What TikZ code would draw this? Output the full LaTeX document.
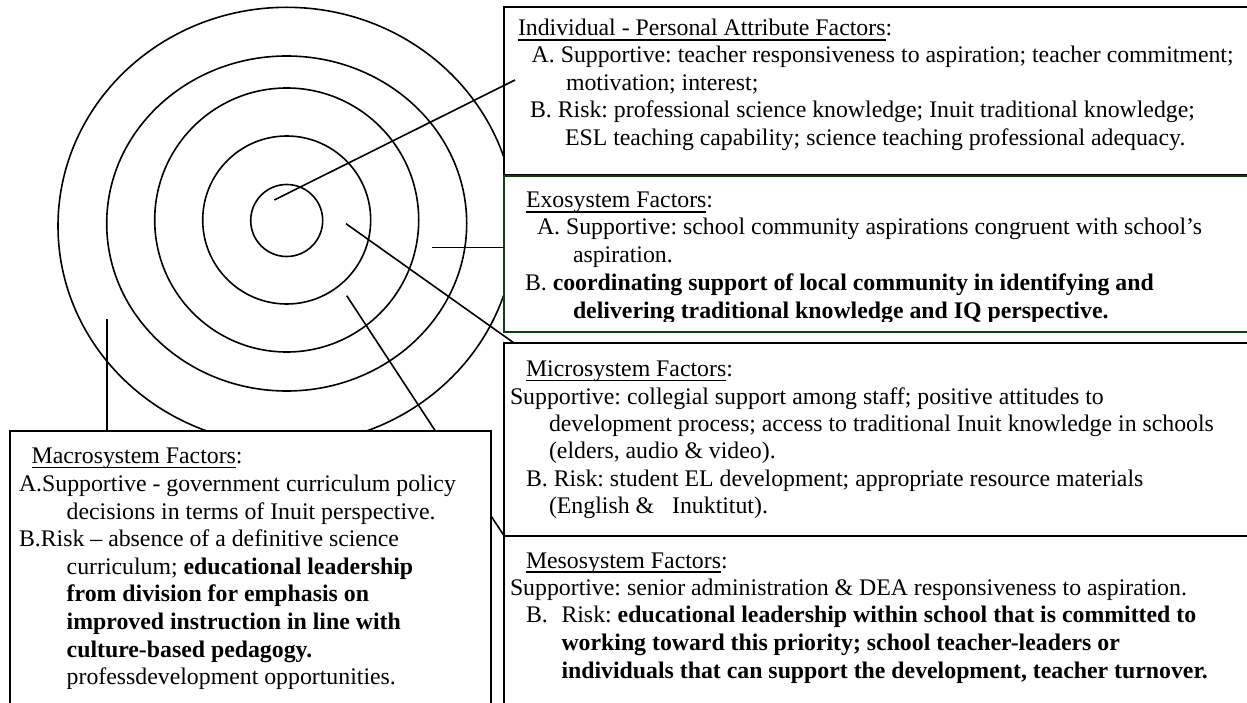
\documentclass[tikz,border=0pt]{standalone}
\usepackage{fontspec}
\setmainfont{Liberation Serif}
\frenchspacing
\definecolor{exogreen}{RGB}{18,62,18}
% underline sitting a fixed distance below the baseline
\newcommand\hdul[1]{\leavevmode\setbox0\hbox{#1}\rlap{\rule[-4.7pt]{\wd0}{1.4pt}}\box0}

\begin{document}
\begin{tikzpicture}[x=1pt,y=-1pt,
  ring/.style={line width=1.6pt},
  link/.style={line width=1.6pt},
  panel/.style={draw=black,line width=2pt,fill=white,anchor=north west,
                inner sep=0pt,outer sep=0pt},
  txt/.style={anchor=base west,inner sep=0pt,outer sep=0pt,
              font=\fontsize{23.8}{27.3}\selectfont}]
\useasboundingbox (0,0) rectangle (1247,703);
\clip (0,0) rectangle (1247,703);
\fill[white] (0,0) rectangle (1247,703);

% nested system rings
\draw[ring] (286.7,220.5) circle[radius=36];
\draw[ring] (286.7,220) circle[radius=84];
\draw[ring] (286.7,220) circle[radius=132];
\draw[ring] (286.7,223.5) ellipse[x radius=180,y radius=167.5];
\draw[ring] (286.7,226) ellipse[x radius=228.7,y radius=218.7];

% start points of the leader lines inside the rings
\coordinate (pI) at (274.3,200);
\coordinate (pX) at (432.3,247.7);
\coordinate (pM) at (346,223.7);
\coordinate (pS) at (346.7,295.7);
\coordinate (pA) at (106.7,319);
\coordinate (eI) at (515,80);

% factor panels
\node[panel,minimum width=760,minimum height=168] (ind) at (504,7.5) {};
\node[panel,draw=exogreen,minimum width=760,minimum height=156.6] (exo) at (504,175.7) {};
\node[panel,minimum width=760,minimum height=192.7] (micro) at (504,343) {};
\node[panel,minimum width=760,minimum height=200] (meso) at (504,535.7) {};

% mesosystem leader runs behind the macrosystem panel
\draw[link] (pS) -- (meso.north west);
\node[panel,minimum width=480.7,minimum height=300] (macro) at (10,431) {};

\draw[link] (pI) -- (eI);
\draw[link] (pX) -- (pX -| exo.west);
\draw[link] (pM) -- ([xshift=10pt]micro.north west);
\draw[link] (pA) -- (pA |- macro.north);

% Individual
\node[txt] (i1) at (518,36) {\hdul{Individual - Personal Attribute Factors}:};
\node[txt] (i2) at (531.7,63) {A. Supportive: teacher responsiveness to aspiration; teacher commitment;};
\node[txt] (i3) at (566,90.5) {motivation; interest;};
\node[txt] (i4) at (530,118) {B. Risk: professional science knowledge; Inuit traditional knowledge;};
\node[txt] (i5) at (565,145.5) {ESL teaching capability; science teaching professional adequacy.};

% Exosystem
\begin{scope}
\clip (504,176) rectangle (1247,321);
\node[txt] (x1) at (526,208) {\hdul{Exosystem Factors}:};
\node[txt] (x2) at (537,235) {A. Supportive: school community aspirations congruent with school’s};
\node[txt] (x3) at (573,262) {aspiration.};
\node[txt] (x4) at (525,290.5) {B. \textbf{coordinating support of local community in identifying and}};
\node[txt] (x5) at (573,318.5) {\textbf{delivering traditional knowledge and IQ perspective.}};
\end{scope}

% Microsystem
\node[txt] (m1) at (526,376.7) {\hdul{Microsystem Factors}:};
\node[txt] (m2) at (510,404) {Supportive: collegial support among staff; positive attitudes to};
\node[txt] (m3) at (549,431.7) {development process; access to traditional Inuit knowledge in schools};
\node[txt] (m4) at (549,458.5) {(elders, audio \& video).};
\node[txt] (m5) at (526,486.7) {B. Risk: student EL development; appropriate resource materials};
\node[txt] (m6) at (549,513.3) {(English \&\hspace{18pt}Inuktitut).};

% Mesosystem
\node[txt] (s1) at (526,568) {\hdul{Mesosystem Factors}:};
\node[txt] (s2) at (510,595) {Supportive: senior administration \& DEA responsiveness to aspiration.};
\node[txt] (s3a) at (526,622.7) {B.};
\node[txt] (s3) at (561.5,622.7) {Risk: \textbf{educational leadership within school that is committed to}};
\node[txt] (s4) at (561.5,650) {\textbf{working toward this priority; school teacher-leaders or}};
\node[txt] (s5) at (561.5,678.3) {\textbf{individuals that can support the development, teacher turnover.}};

% Macrosystem
\node[txt] (a1) at (31.7,463.3) {\hdul{Macrosystem Factors}:};
\node[txt] (a2) at (19,491) {A.Supportive - government curriculum policy};
\node[txt] (a3) at (66.7,519) {decisions in terms of Inuit perspective.};
\node[txt] (a4) at (19,546) {B.Risk – absence of a definitive science};
\node[txt] (a5) at (66.7,574) {curriculum; \textbf{educational leadership}};
\node[txt] (a6) at (66.7,601.7) {\textbf{from division for emphasis on}};
\node[txt] (a7) at (66.7,629.7) {\textbf{improved instruction in line with}};
\node[txt] (a8) at (66.7,657.3) {\textbf{culture-based pedagogy.}};
\node[txt] (a9) at (66.7,684.3) {professdevelopment opportunities.};
\end{tikzpicture}
\end{document}
